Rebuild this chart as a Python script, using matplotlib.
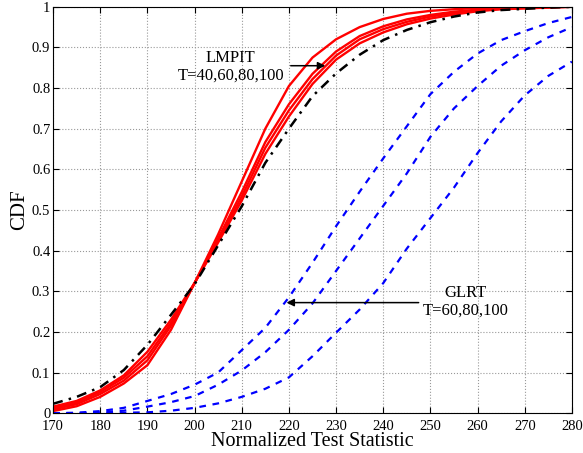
import numpy as np
import matplotlib
matplotlib.use('Agg')
import matplotlib.pyplot as plt

plt.rcParams['font.family'] = ['Liberation Serif', 'DejaVu Serif']

# Значення статистики (вісь x)
x = [170, 175, 180, 185, 190, 195, 200, 205, 210, 215, 220, 225,
     230, 235, 240, 245, 250, 255, 260, 265, 270, 275, 280]

# LMPIT, T=40,60,80,100 (червоні)
lmpit_1 = [0.005, 0.017, 0.040, 0.073, 0.118, 0.205, 0.320, 0.440, 0.570, 0.700, 0.805, 0.875,
           0.920, 0.950, 0.970, 0.983, 0.990, 0.994, 0.997, 0.999, 1.000, 1.000, 1.000]
lmpit_2 = [0.009, 0.022, 0.047, 0.080, 0.130, 0.215, 0.320, 0.430, 0.544, 0.667, 0.760, 0.835,
           0.890, 0.928, 0.952, 0.969, 0.980, 0.988, 0.993, 0.996, 0.998, 0.999, 1.000]
lmpit_3 = [0.012, 0.026, 0.052, 0.087, 0.140, 0.222, 0.320, 0.425, 0.533, 0.653, 0.745, 0.822,
           0.880, 0.920, 0.945, 0.963, 0.976, 0.985, 0.991, 0.995, 0.997, 0.999, 1.000]
lmpit_4 = [0.016, 0.030, 0.056, 0.093, 0.151, 0.230, 0.320, 0.420, 0.523, 0.638, 0.730, 0.810,
           0.870, 0.910, 0.937, 0.957, 0.971, 0.981, 0.989, 0.994, 0.996, 0.998, 1.000]

# Асимптотична крива (чорна штрих-пунктирна)
asympt = [0.023, 0.040, 0.064, 0.106, 0.168, 0.242, 0.317, 0.413, 0.509, 0.616, 0.700, 0.780,
          0.836, 0.882, 0.918, 0.943, 0.962, 0.976, 0.986, 0.992, 0.995, 0.998, 1.000]

# GLRT, T=60,80,100 (сині)
glrt_1 = [0.000, 0.001, 0.005, 0.013, 0.030, 0.047, 0.070, 0.100, 0.155, 0.210, 0.285, 0.370,
          0.460, 0.545, 0.627, 0.706, 0.785, 0.840, 0.885, 0.918, 0.940, 0.960, 0.975]
glrt_2 = [0.000, 0.000, 0.002, 0.006, 0.016, 0.027, 0.042, 0.070, 0.105, 0.150, 0.205, 0.270,
          0.350, 0.430, 0.510, 0.590, 0.680, 0.750, 0.805, 0.855, 0.893, 0.925, 0.950]
glrt_3 = [0.000, 0.000, 0.000, 0.001, 0.002, 0.006, 0.013, 0.024, 0.040, 0.060, 0.088, 0.140,
          0.198, 0.255, 0.320, 0.405, 0.480, 0.555, 0.640, 0.718, 0.782, 0.830, 0.865]

xticks = [170, 180, 190, 200, 210, 220, 230, 240, 250, 260, 270, 280]
yticks = [0, 0.1, 0.2, 0.3, 0.4, 0.5, 0.6, 0.7, 0.8, 0.9, 1]
ytick_labels = ['0', '0.1', '0.2', '0.3', '0.4', '0.5', '0.6', '0.7', '0.8', '0.9', '1']

fig = plt.figure(figsize=(5.83, 4.53), dpi=100)
ax = fig.add_axes([0.091, 0.088, 0.890, 0.897])

for y in [lmpit_1, lmpit_2, lmpit_3, lmpit_4]:
    ax.plot(x, y, color='r', linewidth=1.7)
ax.plot(x, asympt, color='k', linestyle='-.', linewidth=1.8, dashes=(4, 2.5, 1, 2.5))
for y in [glrt_1, glrt_2, glrt_3]:
    ax.plot(x, y, color='b', linestyle='--', linewidth=1.6, dashes=(3, 3))

ax.set_xlim(170, 280)
ax.set_ylim(0, 1)
ax.set_xticks(xticks)
ax.set_yticks(yticks)
ax.set_yticklabels(ytick_labels)
ax.tick_params(direction='in', top=True, right=True, labelsize=10.5, length=4)
ax.tick_params(axis='x', pad=5)
ax.tick_params(axis='y', pad=2)
ax.grid(True, linestyle=':', color='#999999', linewidth=0.8)
ax.set_xlabel('Normalized Test Statistic', fontsize=14.5, labelpad=-0.5)
ax.set_ylabel('CDF', fontsize=15, labelpad=2)

# Підписи зі стрілками
ax.text(207.7, 0.852, 'LMPIT\nT=40,60,80,100', ha='center', va='center',
        fontsize=12, linespacing=1.15)
ax.annotate('', xy=(228.3, 0.855), xytext=(219.8, 0.855),
            arrowprops=dict(arrowstyle='-|>', color='k', lw=1.1, mutation_scale=11))
ax.text(257.4, 0.273, 'GLRT\nT=60,80,100', ha='center', va='center',
        fontsize=12, linespacing=1.15)
ax.annotate('', xy=(218.9, 0.272), xytext=(248.1, 0.272),
            arrowprops=dict(arrowstyle='-|>', color='k', lw=1.1, mutation_scale=11))

fig.savefig('out.png', dpi=100)
